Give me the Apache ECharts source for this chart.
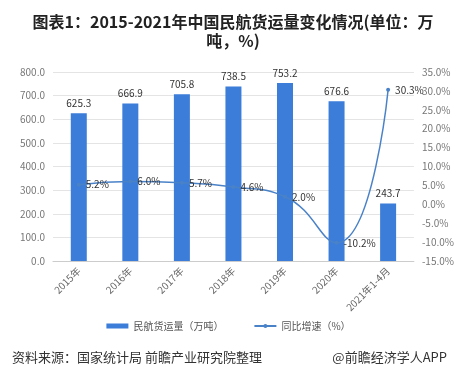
<!DOCTYPE html>
<html><head><meta charset="utf-8">
<script src="https://cdn.jsdelivr.net/npm/echarts@6/dist/echarts.min.js"></script>
<style>html,body{margin:0;padding:0;background:#fff;}#c{width:457px;height:382px;}</style>
</head><body><div id="c"></div>
<script>
var categories = ['2015年','2016年','2017年','2018年','2019年','2020年','2021年1-4月'];
var volume = [625.3, 666.9, 705.8, 738.5, 753.2, 676.6, 243.7];
var growth = [5.2, 6.0, 5.7, 4.6, 2.0, -10.2, 30.3];
var barName = '民航货运量（万吨）';
var lineName = '同比增速（%）';

var chart = echarts.init(document.getElementById('c'));
var fontFam = '"Noto Sans CJK SC","Noto Sans",sans-serif';
chart.setOption({
  animation: false,
  backgroundColor: '#fff',
  textStyle: {fontFamily: fontFam},
  title: [{
    text: '图表1：2015-2021年中国民航货运量变化情况(单位：万\n吨，%)',
    left: 228, top: 7,
    textAlign: 'center',
    textStyle: {fontSize: 16, fontWeight: 'bold', color: '#222', lineHeight: 19, fontFamily: fontFam}
  }, {
    text: '资料来源：国家统计局 前瞻产业研究院整理',
    left: 7, top: 346,
    textStyle: {fontSize: 13, fontWeight: 'normal', color: '#333', fontFamily: fontFam}
  }, {
    text: '@前瞻经济学人APP',
    right: 5, top: 346,
    textStyle: {fontSize: 13, fontWeight: 'normal', color: '#333', fontFamily: fontFam}
  }],
  legend: {
    bottom: 46, left: 'center', itemGap: 30, itemWidth: 22, itemHeight: 5,
    textStyle: {fontSize: 10, color: '#555'},
    data: [{name: barName, icon: 'rect'}, {name: lineName}]
  },
  grid: {left: 53, right: 43, top: 72, bottom: 121},
  xAxis: {
    type: 'category', data: categories,
    axisLine: {lineStyle: {color: '#ccc'}},
    axisTick: {show: false},
    axisLabel: {rotate: 45, fontSize: 10, color: '#666', interval: 0, margin: 8}
  },
  yAxis: [{
    type: 'value', min: 0, max: 800, interval: 100,
    axisLine: {show: false}, axisTick: {show: false},
    splitLine: {lineStyle: {color: '#e4e4e4'}},
    axisLabel: {fontSize: 10, color: '#777', formatter: function(v){return v.toFixed(1);}}
  }, {
    type: 'value', min: -15, max: 35, interval: 5,
    axisLine: {show: false}, axisTick: {show: false},
    splitLine: {show: false},
    axisLabel: {fontSize: 10, color: '#777', formatter: function(v){return v.toFixed(1)+'%';}}
  }],
  series: [{
    name: barName, type: 'bar', data: volume, barWidth: 16,
    itemStyle: {color: '#3b7dd8'},
    label: {show: true, position: 'top', fontSize: 10, color: '#333', formatter: function(p){return p.value.toFixed(1);}}
  }, {
    name: lineName, type: 'line', yAxisIndex: 1, data: growth, smooth: true,
    symbol: 'circle', symbolSize: 4,
    lineStyle: {color: '#4a82c8', width: 1.5},
    itemStyle: {color: '#4a82c8'},
    label: {show: true, position: 'right', fontSize: 10, color: '#333', formatter: function(p){return p.value.toFixed(1)+'%';}}
  }]
});
</script></body></html>
